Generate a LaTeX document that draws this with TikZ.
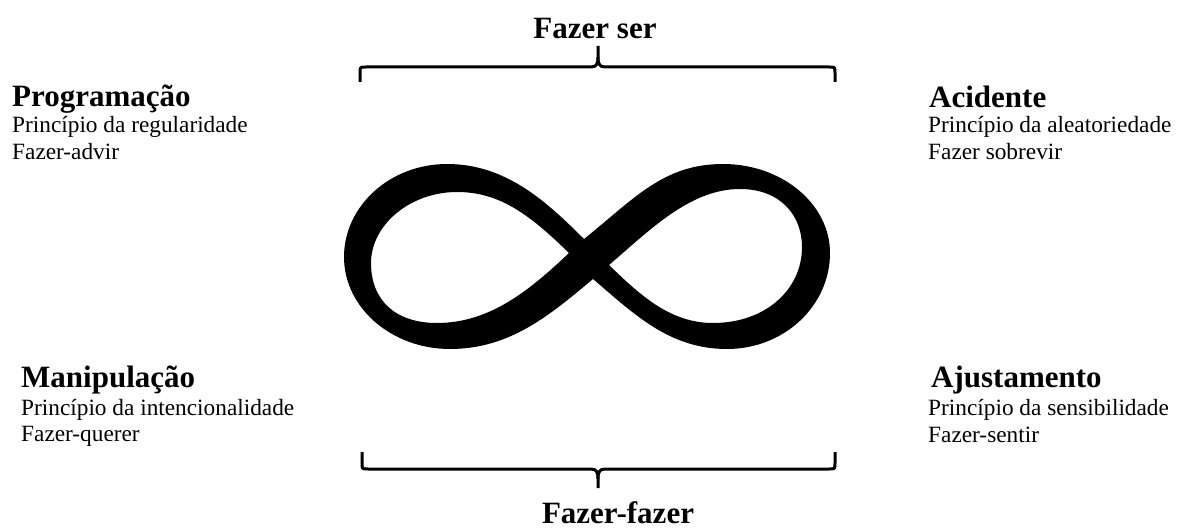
\documentclass[tikz,border=0pt]{standalone}
\usepackage{fontspec}
\setmainfont{Liberation Serif}
\begin{document}
\begin{tikzpicture}[x=1pt,y=-1pt,
  head/.style={font=\fontsize{31}{31}\selectfont\bfseries, inner sep=0pt, anchor=base west},
  body/.style={font=\fontsize{23.3}{23.3}\selectfont, inner sep=0pt, anchor=base west},
  ctitle/.style={font=\fontsize{31}{31}\selectfont\bfseries, inner sep=0pt, anchor=base},
  bracestyle/.style={line width=3pt, line join=round}]
\useasboundingbox (0,0) rectangle (1181,529);
% infinity
\fill[even odd rule]
 (584,239) .. controls (634,199) and (663,164) .. (723,164)
  .. controls (782,164) and (830,204) .. (830,253)
  .. controls (830,306) and (784,349) .. (727,349)
  .. controls (670,349) and (635,315) .. (593,279)
  .. controls (550,315) and (510,349) .. (450,349)
  .. controls (392,349) and (344,308) .. (344,257)
  .. controls (344,206) and (390,164) .. (447,164)
  .. controls (505,164) and (545,200) .. (584,239) -- cycle
 (569,253) .. controls (530,215) and (500,192) .. (457,192)
  .. controls (410,192) and (371,225) .. (371,263)
  .. controls (371,300) and (395,323) .. (437,323)
  .. controls (490,323) and (530,290) .. (569,253) -- cycle
 (609,265) .. controls (650,230) and (690,189) .. (740,189)
  .. controls (780,189) and (802,215) .. (802,247)
  .. controls (802,290) and (765,323) .. (713,323)
  .. controls (670,323) and (640,295) .. (609,265) -- cycle;
% top brace
\draw[bracestyle] (360,82) -- (360,73) .. controls (360,67) .. (366,67) -- (591,67)
  .. controls (597,67) and (598,63) .. (598,57) -- (598,46);
\draw[bracestyle] (835,82) -- (835,73) .. controls (835,67) .. (829,67) -- (605,67)
  .. controls (599,67) and (598,63) .. (598,57);
% bottom brace
\draw[bracestyle] (362,452) -- (362,463) .. controls (362,469) .. (368,469) -- (591,469)
  .. controls (597,469) and (598,473) .. (598,479) -- (598,488);
\draw[bracestyle] (835,452) -- (835,463) .. controls (835,469) .. (829,469) -- (605,469)
  .. controls (599,469) and (598,473) .. (598,479);
% titles
\node[ctitle] (fs) at (595,39) {Fazer ser};
\node[ctitle] (ff) at (618,523) {Fazer-fazer};
% left top
\node[head] (prog) at (12,107) {Programação};
\node[body] (prog1) at (12,133) {Princípio da regularidade};
\node[body] (prog2) at (12,160) {Fazer-advir};
% right top
\node[head] (acid) at (929,108) {Acidente};
\node[body] (acid1) at (928,133) {Princípio da aleatoriedade};
\node[body] (acid2) at (928,160) {Fazer sobrevir};
% left bottom
\node[head] (mani) at (21,388) {Manipulação};
\node[body] (mani1) at (21,415) {Princípio da intencionalidade};
\node[body] (mani2) at (21,441) {Fazer-querer};
% right bottom
\node[head] (ajus) at (931,388) {Ajustamento};
\node[body] (ajus1) at (928,415) {Princípio da sensibilidade};
\node[body] (ajus2) at (928,442) {Fazer-sentir};
\end{tikzpicture}
\end{document}
